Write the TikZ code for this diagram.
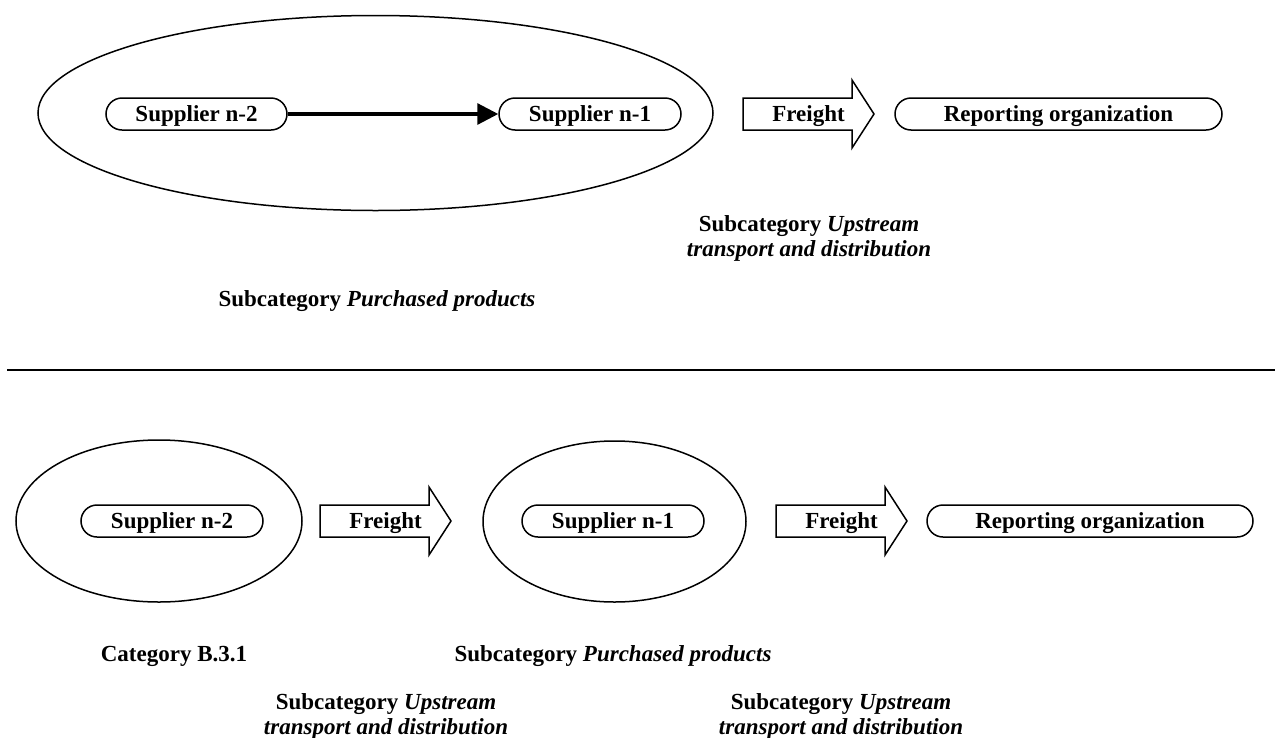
\documentclass[tikz,border=0pt]{standalone}
\usepackage{fontspec}
\setmainfont{Liberation Serif}
\usetikzlibrary{arrows.meta,shapes.geometric}
\tikzset{
  lbl/.style={font=\fontsize{23}{25}\selectfont\bfseries, inner sep=0pt},
  pill/.style={lbl, draw, line width=1.5pt, rounded corners=16pt, minimum height=32pt, text height=18pt, text depth=3pt},
  oval/.style={draw, ellipse, line width=1.5pt, inner sep=0pt},
  freight/.pic={
    \draw[line width=1.5pt, fill=white] (-65.5,-16) -- (43.5,-16) -- (43.5,-34) -- (65.5,0)
      -- (43.5,34) -- (43.5,16) -- (-65.5,16) -- cycle;
    \node[lbl, text height=18pt, text depth=3pt] (-t) at (0,0) {Freight};
  }
}
\begin{document}
\begin{tikzpicture}[x=1pt,y=-1pt]
\useasboundingbox (0,0) rectangle (1275,737);
% top part
\node[oval, minimum width=675pt, minimum height=195pt] (E0) at (375.5,113) {};
\node[pill, minimum width=181pt] (s2a) at (196.5,114) {Supplier n-2};
\node[pill, minimum width=182pt] (s1a) at (590,114) {Supplier n-1};
\draw[line width=3.2pt, -{Triangle[length=21pt,width=21pt]}] (s2a) -- (s1a);
\pic (fa) at (808.5,114) {freight};
\node[pill, minimum width=327pt] (roa) at (1058.5,114) {Reporting organization};
\node[lbl, align=center, anchor=base] (ua) at (809,256) {Subcategory \textit{Upstream}\\\textit{transport and distribution}};
\node[lbl, anchor=base] (pa) at (377,306) {Subcategory \textit{Purchased products}};
% separator
\coordinate (l1) at (7,370);
\coordinate (l2) at (1275,370);
\draw[line width=2pt] (l1) -- (l2);
% bottom part
\node[oval, minimum width=286pt, minimum height=162pt] (E1) at (159,521) {};
\node[pill, minimum width=182pt] (s2b) at (172,521) {Supplier n-2};
\pic (fb) at (385.5,521) {freight};
\node[oval, minimum width=263pt, minimum height=161pt] (E2) at (614.5,521.5) {};
\node[pill, minimum width=182pt] (s1b) at (613,521) {Supplier n-1};
\pic (fc) at (841.5,521) {freight};
\node[pill, minimum width=326pt] (rob) at (1090,521) {Reporting organization};
\node[lbl, anchor=base] (cb) at (174,661) {Category B.3.1};
\node[lbl, anchor=base] (pb) at (613,661) {Subcategory \textit{Purchased products}};
\node[lbl, align=center, anchor=base] (ub1) at (386,734) {Subcategory \textit{Upstream}\\\textit{transport and distribution}};
\node[lbl, align=center, anchor=base] (ub2) at (841,734) {Subcategory \textit{Upstream}\\\textit{transport and distribution}};
\end{tikzpicture}
\end{document}
